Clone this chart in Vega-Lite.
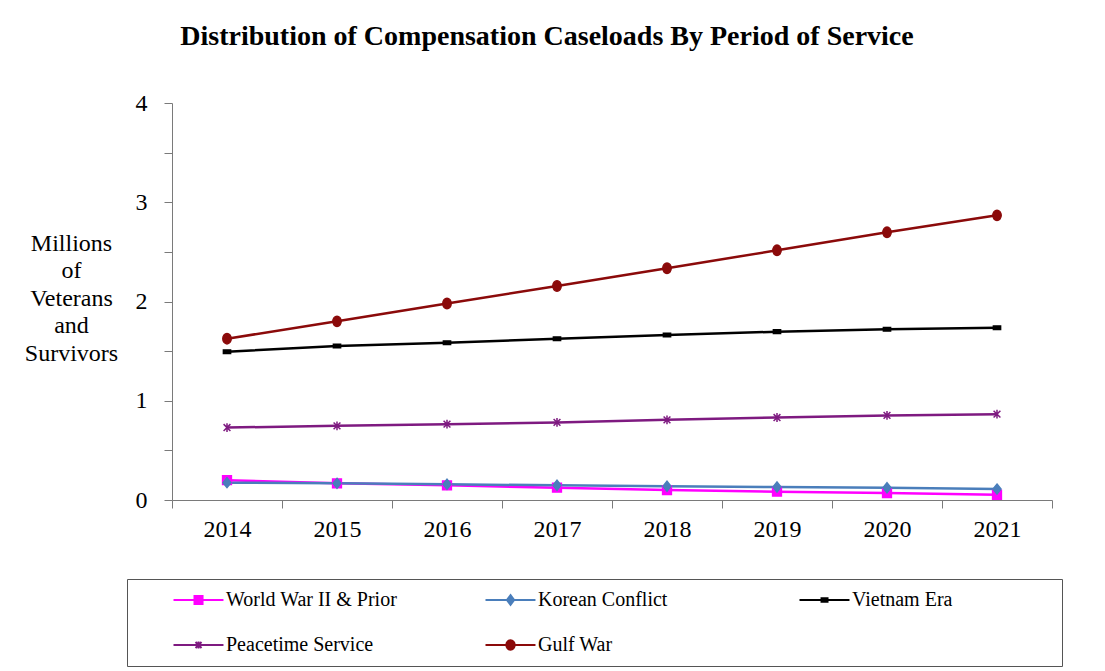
{
  "$schema": "https://vega.github.io/schema/vega-lite/v6.json",
  "width": 880,
  "height": 397,
  "padding": {"left": 24, "top": 23, "right": 40, "bottom": 4},
  "background": "white",
  "config": {"view": {"stroke": null}, "font": "Liberation Serif"},
  "title": {
    "text": "Distribution of Compensation Caseloads By Period of Service",
    "font": "Liberation Serif",
    "fontSize": 28,
    "fontWeight": "bold",
    "color": "black",
    "anchor": "middle",
    "frame": "group",
    "dx": -65,
    "offset": 40
  },
  "data": {
    "values": [
      {"year": "2014", "series": "World War II & Prior", "value": 0.2},
      {"year": "2015", "series": "World War II & Prior", "value": 0.168},
      {"year": "2016", "series": "World War II & Prior", "value": 0.148},
      {"year": "2017", "series": "World War II & Prior", "value": 0.124},
      {"year": "2018", "series": "World War II & Prior", "value": 0.1},
      {"year": "2019", "series": "World War II & Prior", "value": 0.084},
      {"year": "2020", "series": "World War II & Prior", "value": 0.07},
      {"year": "2021", "series": "World War II & Prior", "value": 0.053},
      {"year": "2014", "series": "Korean Conflict", "value": 0.175},
      {"year": "2015", "series": "Korean Conflict", "value": 0.168},
      {"year": "2016", "series": "Korean Conflict", "value": 0.158},
      {"year": "2017", "series": "Korean Conflict", "value": 0.148},
      {"year": "2018", "series": "Korean Conflict", "value": 0.138},
      {"year": "2019", "series": "Korean Conflict", "value": 0.131},
      {"year": "2020", "series": "Korean Conflict", "value": 0.124},
      {"year": "2021", "series": "Korean Conflict", "value": 0.11},
      {"year": "2014", "series": "Vietnam Era", "value": 1.494},
      {"year": "2015", "series": "Vietnam Era", "value": 1.552},
      {"year": "2016", "series": "Vietnam Era", "value": 1.585},
      {"year": "2017", "series": "Vietnam Era", "value": 1.625},
      {"year": "2018", "series": "Vietnam Era", "value": 1.662},
      {"year": "2019", "series": "Vietnam Era", "value": 1.696},
      {"year": "2020", "series": "Vietnam Era", "value": 1.72},
      {"year": "2021", "series": "Vietnam Era", "value": 1.736},
      {"year": "2014", "series": "Peacetime Service", "value": 0.73},
      {"year": "2015", "series": "Peacetime Service", "value": 0.747},
      {"year": "2016", "series": "Peacetime Service", "value": 0.764},
      {"year": "2017", "series": "Peacetime Service", "value": 0.782},
      {"year": "2018", "series": "Peacetime Service", "value": 0.808},
      {"year": "2019", "series": "Peacetime Service", "value": 0.831},
      {"year": "2020", "series": "Peacetime Service", "value": 0.852},
      {"year": "2021", "series": "Peacetime Service", "value": 0.865},
      {"year": "2014", "series": "Gulf War", "value": 1.625},
      {"year": "2015", "series": "Gulf War", "value": 1.8},
      {"year": "2016", "series": "Gulf War", "value": 1.98},
      {"year": "2017", "series": "Gulf War", "value": 2.156},
      {"year": "2018", "series": "Gulf War", "value": 2.335},
      {"year": "2019", "series": "Gulf War", "value": 2.516},
      {"year": "2020", "series": "Gulf War", "value": 2.697},
      {"year": "2021", "series": "Gulf War", "value": 2.868}
    ]
  },
  "encoding": {
    "x": {
      "field": "year",
      "type": "ordinal",
      "scale": {"type": "band", "paddingInner": 0, "paddingOuter": 0},
      "axis": {
        "title": null,
        "labelAngle": 0,
        "labelFont": "Liberation Serif",
        "labelFontSize": 24,
        "labelColor": "black",
        "labelPadding": 9,
        "tickBand": "extent",
        "tickSize": 8,
        "tickColor": "#7a7a7a",
        "domainColor": "#7a7a7a",
        "grid": false
      }
    },
    "y": {
      "field": "value",
      "type": "quantitative",
      "scale": {"domain": [0, 4], "nice": false},
      "axis": {
        "values": [0, 0.5, 1, 1.5, 2, 2.5, 3, 3.5, 4],
        "labelExpr": "datum.value % 1 === 0 ? format(datum.value, 'd') : ''",
        "labelFont": "Liberation Serif",
        "labelFontSize": 24,
        "labelColor": "black",
        "labelPadding": 17,
        "tickSize": 8,
        "tickColor": "#7a7a7a",
        "domainColor": "#7a7a7a",
        "grid": false,
        "title": ["Millions", "of", "Veterans", "and", "Survivors"],
        "titleAngle": 0,
        "titleFont": "Liberation Serif",
        "titleFontSize": 24,
        "titleFontWeight": "normal",
        "titleColor": "black",
        "titleAlign": "center",
        "titleBaseline": "top",
        "titleLineHeight": 27.5,
        "titleX": -101,
        "titleY": 128
      }
    }
  },
  "layer": [
    {
      "mark": {"type": "line", "strokeWidth": 2.5},
      "encoding": {
        "color": {
          "field": "series",
          "type": "nominal",
          "scale": {
            "domain": ["World War II & Prior", "Korean Conflict", "Vietnam Era", "Peacetime Service", "Gulf War"],
            "range": ["#FF00FF", "#4A7EBB", "#000000", "#7E1A80", "#8B0A0A"]
          },
          "legend": {
            "title": null,
            "orient": "none",
            "legendX": -45,
            "legendY": 476,
            "direction": "horizontal",
            "columns": 3,
            "gridAlign": "each",
            "columnPadding": 52,
            "rowPadding": 25,
            "padding": 11,
            "strokeColor": "#555555",
            "symbolSize": 144,
            "symbolStrokeWidth": 2,
            "labelFont": "Liberation Serif",
            "labelFontSize": 20,
            "labelColor": "black",
            "labelOffset": 68,
            "labelLimit": 400,
            "encode": {
              "symbols": {
                "update": {
                  "shape": {"signal": "datum.value === 'World War II & Prior' ? 'M-1,-1M-1,1M4.25,0H12.58M7.75,-0.67H9.09V0.67H7.75Z' : datum.value === 'Korean Conflict' ? 'M-1,-1M-1,1M41.33,0M4.25,0H12.58M8.42,-0.8L9.02,0L8.42,0.8L7.82,0Z' : datum.value === 'Vietnam Era' ? 'M-1,-1M-1,1M45.4,0M4.25,0H12.58M7.92,-0.28H8.92V0.28H7.92Z' : datum.value === 'Peacetime Service' ? 'M-1,-1M-1,1M4.25,0H12.58M7.92,-0.5L8.92,0.5M7.92,0.5L8.92,-0.5M8.42,-0.6V0.6' : 'M-1,-1M-1,1M4.25,0H12.58M7.72,0A0.7,0.8 0 1,0 9.12,0A0.7,0.8 0 1,0 7.72,0Z'"},
                  "fill": {"signal": "scale('color', datum.value)"},
                  "strokeWidth": {"value": 2},
                  "opacity": {"value": 1}
                }
              }
            }
          }
        }
      }
    },
    {
      "mark": {"type": "point", "filled": true, "size": 64, "opacity": 1, "strokeWidth": 1.5},
      "encoding": {
        "color": {"field": "series", "type": "nominal", "legend": null},
        "stroke": {
          "field": "series",
          "type": "nominal",
          "legend": null,
          "scale": {
            "domain": ["Gulf War", "Peacetime Service", "Vietnam Era", "Korean Conflict", "World War II & Prior"],
            "range": ["#8B0A0A", "#7E1A80", "#000000", "#4A7EBB", "#FF00FF"]
          }
        },
        "shape": {
          "field": "series",
          "type": "nominal",
          "legend": null,
          "scale": {
            "domain": ["Korean Conflict", "World War II & Prior", "Gulf War", "Peacetime Service", "Vietnam Era"],
            "range": [
              "M0,-1.25L1,0L0,1.25L-1,0Z",
              "M-1.1,-1.1H1.1V1.1H-1.1Z",
              "M-1.05,0A1.05,1.3 0 1,0 1.05,0A1.05,1.3 0 1,0 -1.05,0Z",
              "M-0.85,-0.85L0.85,0.85M-0.85,0.85L0.85,-0.85M0,-1.1V1.1",
              "M-0.9,-0.45H0.9V0.45H-0.9Z"
            ]
          }
        }
      }
    }
  ]
}
